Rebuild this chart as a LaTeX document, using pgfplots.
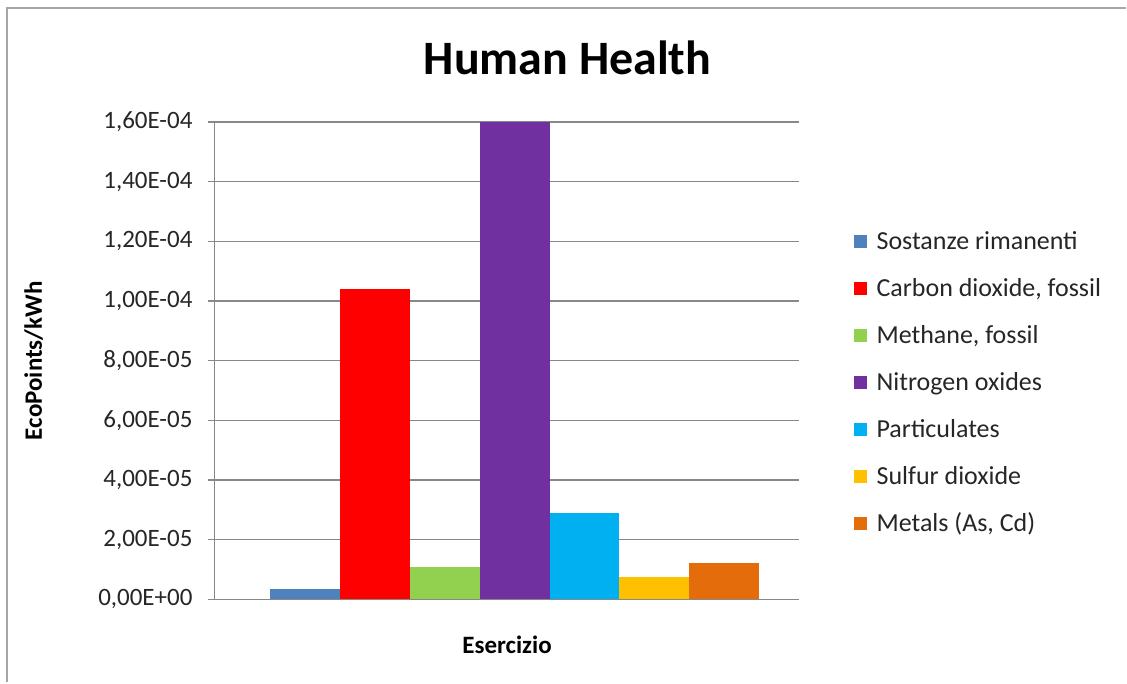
\documentclass[border=0pt]{standalone}
\usepackage{fontspec}
\setmainfont{Carlito}
\usepackage{pgfplots}
\pgfplotsset{compat=1.18}
\definecolor{cSos}{HTML}{4F81BD}
\definecolor{cCO}{HTML}{FF0000}
\definecolor{cMe}{HTML}{92D050}
\definecolor{cNO}{HTML}{7030A0}
\definecolor{cPa}{HTML}{00B0F0}
\definecolor{cSO}{HTML}{FFC000}
\definecolor{cMt}{HTML}{E46C0A}
\definecolor{gridc}{HTML}{888888}
\definecolor{framec}{HTML}{A6A6A6}
\begin{document}
\begin{tikzpicture}[x=1pt,y=1pt]
\fill[white] (0,0) rectangle (563.5,341.5);
\draw[line width=1pt, framec] (3.75,0) -- (3.75,337.25) -- (563.5,337.25);
\node[font=\bfseries\fontsize{24}{28}\selectfont, anchor=base] at (284,304) {Human Health};
\begin{axis}[
  at={(107.5pt,41.5pt)}, anchor=south west,
  scale only axis, width=292.5pt, height=239pt,
  xmin=-1.2857, xmax=7.0714, ymin=0, ymax=1.6e-4,
  axis x line=bottom, axis y line=left,
  axis line style={-, gridc, line width=0.65pt},
  xtick=\empty,
  ytick={0,2e-5,4e-5,6e-5,8e-5,1e-4,1.2e-4,1.4e-4,1.6e-4},
  yticklabels={{0,00E+00},{2,00E-05},{4,00E-05},{6,00E-05},{8,00E-05},{1,00E-04},{1,20E-04},{1,40E-04},{1,60E-04}},
  scaled y ticks=false,
  tick align=outside, major tick length=3.5pt,
  ytick style={gridc, line width=0.65pt},
  ymajorgrids, major grid style={gridc, line width=0.65pt},
  yticklabel style={font=\fontsize{12.5}{14}\selectfont, anchor=east, inner sep=0pt, xshift=-7.5pt, text=black!85},
  ylabel={EcoPoints/kWh},
  ylabel style={font=\bfseries\fontsize{12.5}{14}\selectfont, at={(axis description cs:-0.31,0.5)}, anchor=center, rotate=0},
  xlabel={Esercizio},
  xlabel style={font=\bfseries\fontsize{12.5}{14}\selectfont, at={(axis description cs:0.5,-0.094)}, anchor=center},
  every axis plot/.append style={ybar, bar width=1, bar shift=0pt, draw=none},
  legend image code/.code={\fill[#1, draw=none] (0pt,-3.25pt) rectangle (6.5pt,3.25pt);},
  legend style={at={(1.082,0.454)}, anchor=west, draw=none, fill=none,
    font=\fontsize{13}{15}\selectfont, row sep=0pt, text=black!85,
    nodes={inner sep=0pt, minimum height=23.5pt},
    /tikz/every odd column/.append style={column sep=5pt}},
  legend cell align=left,
]
\addplot[fill=cSos] coordinates {(0,3.6e-6)};
\addlegendentry{Sostanze rimanenti}
\addplot[fill=cCO] coordinates {(1,1.041e-4)};
\addlegendentry{Carbon dioxide, fossil}
\addplot[fill=cMe] coordinates {(2,1.08e-5)};
\addlegendentry{Methane, fossil}
\addplot[fill=cNO] coordinates {(3,1.60e-4)};
\addlegendentry{Nitrogen oxides}
\addplot[fill=cPa] coordinates {(4,2.90e-5)};
\addlegendentry{Particulates}
\addplot[fill=cSO] coordinates {(5,7.5e-6)};
\addlegendentry{Sulfur dioxide}
\addplot[fill=cMt] coordinates {(6,1.23e-5)};
\addlegendentry{Metals (As, Cd)}
\end{axis}
\end{tikzpicture}
\end{document}
